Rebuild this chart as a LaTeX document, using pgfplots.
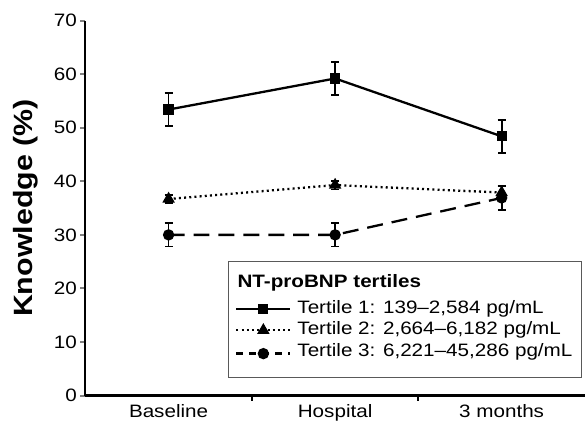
\documentclass[border={10pt 4pt 0pt 11pt}]{standalone}
\usepackage{pgfplots}
\pgfplotsset{compat=1.18}
\usepackage{fontspec}
\setmainfont{Liberation Sans}[FakeStretch=1.15]
\usetikzlibrary{plotmarks}

% knowledge (%) by NT-proBNP tertile: x, mean, error
\pgfplotstableread{
x  y     e
0  53.4  3.1
1  59.2  3.1
2  48.4  3.1
}\tone
\pgfplotstableread{
x  y     e
0  36.7  0.8
1  39.3  0.8
2  37.9  1.1
}\ttwo
\pgfplotstableread{
x  y     e
0  30.0  2.2
1  30.0  2.2
2  36.9  2.2
}\tthree

\newcommand{\tickfont}{\fontsize{18}{21}\selectfont}

\begin{document}
\begin{tikzpicture}
\begin{axis}[
    scale only axis,
    width=501pt, height=376pt,
    xmin=-0.5, xmax=2.5,
    ymin=0, ymax=70,
    axis lines=left,
    axis line style={line width=2.2pt,-},
    xtick={0,1,2},
    xticklabels={Baseline,Hospital,3 months},
    x tick style={draw=none},
    extra x ticks={0.5,1.5},
    extra x tick labels={},
    extra x tick style={x tick style={draw=black,line width=2pt}},
    ytick={0,10,...,70},
    y tick style={line width=2pt},
    tick align=outside,
    major tick length=5pt,
    xticklabel style={font=\tickfont},
    yticklabel style={font=\tickfont},
    /pgf/number format/assume math mode=true,
    ylabel={\textbf{Knowledge (\%)}},
    ylabel style={font=\fontsize{26.5}{30}\selectfont},
    ylabel shift=9pt,
    legend cell align=left,
    legend style={
        at={(rel axis cs:0.994,0.048)}, anchor=south east,
        draw=black!65, line width=1pt,
        font=\fontsize{18}{20}\selectfont,
        inner xsep=7pt, inner ysep=12pt,
        row sep=2.5pt, column sep=4pt,
        nodes={text height=13pt, text depth=, inner ysep=1pt},
    },
    legend image code/.code={
        \draw[mark repeat=2,mark phase=2,#1]
            plot coordinates {(0pt,0pt) (27pt,0pt) (54pt,0pt)};
    },
    error bars/error bar style={line width=1.8pt, solid},
    error bars/error mark options={rotate=90, mark size=4pt, line width=1.6pt, solid},
]
\addlegendimage{empty legend}
\addlegendentry{\hspace*{-60pt}\textbf{NT-proBNP tertiles}\rule[-9pt]{0pt}{1pt}}

\addplot[black, line width=2.3pt, solid, mark=square*, mark size=4pt,
    mark options={solid, fill=black},
    error bars/.cd, y dir=both, y explicit]
    table[x=x, y=y, y error=e] {\tone};
\addlegendentry{Tertile 1: 139–2,584 pg/mL}

\addplot[black, line width=2.3pt, dash pattern=on 2pt off 3.2pt,
    mark=triangle*, mark size=5pt, mark options={solid, fill=black},
    error bars/.cd, y dir=both, y explicit]
    table[x=x, y=y, y error=e] {\ttwo};
\addlegendentry{Tertile 2: 2,664–6,182 pg/mL}

\addplot[black, line width=2.3pt, dash pattern=on 16pt off 9pt,
    mark=*, mark size=4.5pt, mark options={solid, fill=black},
    legend image post style={dash pattern=on 7pt off 6pt},
    error bars/.cd, y dir=both, y explicit]
    table[x=x, y=y, y error=e] {\tthree};
\addlegendentry{Tertile 3: 6,221–45,286 pg/mL\rule[-8pt]{0pt}{1pt}}
\end{axis}
\end{tikzpicture}
\end{document}
